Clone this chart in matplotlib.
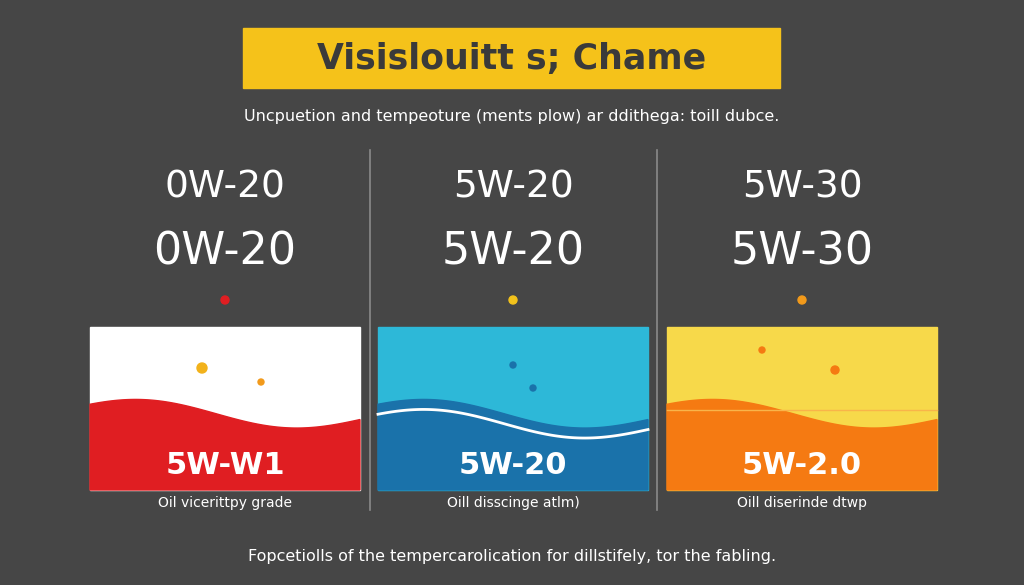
import numpy as np
import matplotlib
matplotlib.use("Agg")
import matplotlib.pyplot as plt
from matplotlib.patches import Rectangle, Polygon, Circle

title = "Visislouitt s; Chame"
subtitle = "Uncpuetion and tempeoture (ments plow) ar ddithega: toill dubce."
footer = "Fopcetiolls of the tempercarolication for dillstifely, tor the fabling."
grades_top = ["0W-20", "5W-20", "5W-30"]
panel_labels = ["5W-W1", "5W-20", "5W-2.0"]
captions = ["Oil vicerittpy grade", "Oill disscinge atlm)", "Oill diserinde dtwp"]
top_colors = ["#FFFFFF", "#2DB8D8", "#F7D94A"]
bottom_colors = ["#E01E22", "#1A72AA", "#F57A12"]
dot_colors = ["#E01E22", "#F2C21B", "#F29A1B"]

BG = "#464646"
fig = plt.figure(figsize=(10.24, 5.85), dpi=100)
fig.patch.set_facecolor(BG)
ax = fig.add_axes([0, 0, 1, 1])
ax.set_xlim(0, 1024); ax.set_ylim(585, 0); ax.axis("off")
ax.set_facecolor(BG)

ax.add_patch(Rectangle((243, 28), 537, 60, color="#F5C21A", zorder=1))
ax.text(512, 59, title, ha="center", va="center", fontsize=25, fontweight="bold", color="#3a3a3a")
ax.text(512, 117, subtitle, ha="center", va="center", fontsize=11.5, color="white")
ax.text(512, 556, footer, ha="center", va="center", fontsize=11.5, color="white")

for x in (370, 657):
    ax.plot([x, x], [150, 510], color="#8a8a8a", lw=1.2)

lefts = [90, 378, 667]
width = 270
for i, l in enumerate(lefts):
    cx = l + width / 2
    ax.text(cx, 187, grades_top[i], ha="center", va="center", fontsize=27, color="white")
    ax.text(cx, 252, grades_top[i], ha="center", va="center", fontsize=32, color="white")
    ax.add_patch(Circle((cx, 300), 4, color=dot_colors[i]))
    ax.add_patch(Rectangle((l, 327), width, 163, color=top_colors[i]))
    xs = np.linspace(l, l + width, 100)
    t = (xs - l) / width
    ys = 410 - 12 * np.sin(t * 2 * np.pi * 0.9 + 0.5) + 8 * t
    poly = np.column_stack([np.r_[xs, l + width, l], np.r_[ys, 490, 490]])
    ax.add_patch(Polygon(poly, color=bottom_colors[i]))
    if i == 1:
        ax.plot(xs, ys + 10, color="white", lw=2)
    if i == 2:
        ax.plot(xs, np.full_like(xs, 410), color="#F9B44A", lw=1)
    ax.text(cx, 466, panel_labels[i], ha="center", va="center", fontsize=22,
            fontweight="bold", color="white")
    ax.text(cx, 503, captions[i], ha="center", va="center", fontsize=10, color="white")

ax.add_patch(Circle((202, 368), 5, color="#F2B21B"))
ax.add_patch(Circle((261, 382), 3, color="#F29A1B"))
ax.add_patch(Circle((513, 365), 3, color="#1A72AA"))
ax.add_patch(Circle((533, 388), 3, color="#1A72AA"))
ax.add_patch(Circle((762, 350), 3, color="#F57A12"))
ax.add_patch(Circle((835, 370), 4, color="#F57A12"))

fig.savefig("out.png", dpi=100, facecolor=BG)
